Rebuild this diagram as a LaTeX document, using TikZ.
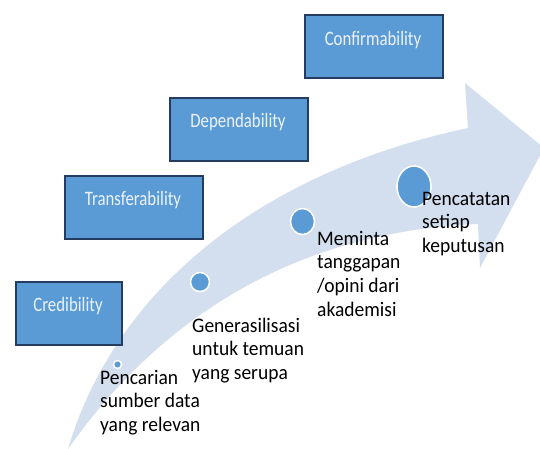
\documentclass[tikz,border=0pt]{standalone}
\usepackage{fontspec}
\setmainfont{Carlito}
\usetikzlibrary{shapes.geometric}
\definecolor{arrowfill}{RGB}{211,222,239}
\definecolor{boxfill}{RGB}{91,155,213}
\definecolor{boxdraw}{RGB}{35,60,95}
\definecolor{boxtext}{RGB}{236,242,250}
\newcommand\tline[1]{\hbox{\scalebox{1}[1.06]{#1}}}
\begin{document}
\begin{tikzpicture}[x=1pt,y=-1pt,
  stagebox/.style={draw=boxdraw, line width=2.2pt, fill=boxfill, anchor=north west, minimum height=63pt, inner sep=0},
  stagetext/.style={text=boxtext, font=\fontsize{20.5}{24}\selectfont, anchor=base, inner sep=0},
  dot/.style={ellipse, fill=boxfill, draw=white, line width=1.5pt, inner sep=0},
  lbl/.style={anchor=base west, inner sep=0, font=\fontsize{19.5}{23.7}\selectfont, text=black}]
\useasboundingbox (0,0) rectangle (540,449);
\clip (0,0) rectangle (540,449);
% curved arrow
\fill[arrowfill] (68,449) .. controls (115,290) and (260,172) .. (468,128)
  -- (465,83) -- (544,148) -- (480,268) -- (478,224)
  .. controls (330,230) and (180,290) .. (68,449) -- cycle;
% stage boxes
\node[stagebox, minimum width=138pt] (conf) at (304,14) {};
\node[stagebox, minimum width=138pt] (dep) at (169,97) {};
\node[stagebox, minimum width=138pt] (trans) at (64,175) {};
\node[stagebox, minimum width=106pt] (cred) at (15,281) {};
\node[stagetext] (conft) at (373,45.7) {\scalebox{0.82}[1]{Confirmability}};
\node[stagetext] (dept) at (238,127.5) {\scalebox{0.82}[1]{Dependability}};
\node[stagetext] (transt) at (133,205.5) {\scalebox{0.82}[1]{Transferability}};
\node[stagetext] (credt) at (68,311.5) {\scalebox{0.82}[1]{Credibility}};
% dots
\node[dot, minimum width=8pt, minimum height=8pt] (c1) at (117.5,364.5) {};
\node[dot, minimum width=19pt, minimum height=19pt] (c2) at (200,282) {};
\node[dot, minimum width=24pt, minimum height=26pt] (c3) at (302.5,221.5) {};
\node[dot, minimum width=34pt, minimum height=41pt] (c4) at (414,186.5) {};
% labels
\node[lbl] (l1) at (100,384) {\vtop{\tline{Pencarian}\tline{sumber data}\tline{yang relevan}}};
\node[lbl] (l2) at (192,332) {\vtop{\tline{Generasilisasi}\tline{untuk temuan}\tline{yang serupa}}};
\node[lbl] (l3) at (317,245) {\vtop{\tline{Meminta}\tline{tanggapan}\tline{/opini dari}\tline{akademisi}}};
\node[lbl] (l4) at (422,205) {\vtop{\tline{Pencatatan}\tline{setiap}\tline{keputusan}}};
\end{tikzpicture}
\end{document}
